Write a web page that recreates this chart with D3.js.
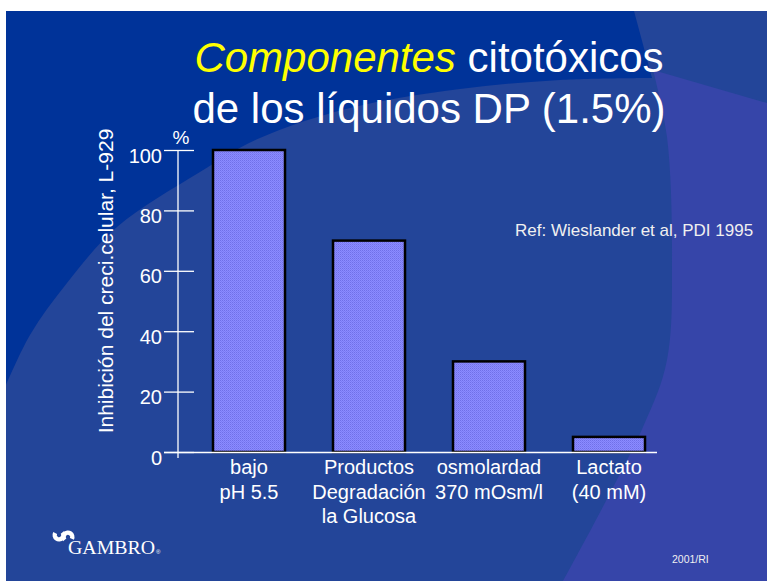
<!DOCTYPE html>
<html>
<head>
<meta charset="utf-8">
<script src="https://cdn.jsdelivr.net/npm/d3@7"></script>
<style>
  body { margin: 0; background: #fff; }
  svg { display: block; font-family: "Liberation Sans", Arial, sans-serif; }
</style>
</head>
<body>
<div id="chart"></div>
<script>
// data
const categories = ["bajo|pH 5.5", "Productos|Degradación|la Glucosa", "osmolardad|370 mOsm/l", "Lactato|(40 mM)"];
const values = [100, 70, 30, 5];
const yTicks = [0, 20, 40, 60, 80, 100];

const width = 767;
const height = 581;

const svg = d3.select("#chart")
  .append("svg")
  .attr("width", width)
  .attr("height", height);

// bar fill pattern (stippled lavender)
const defs = svg.append("defs");
const pat = defs.append("pattern")
  .attr("id", "stipple")
  .attr("width", 2).attr("height", 2)
  .attr("patternUnits", "userSpaceOnUse");
pat.append("rect").attr("width", 2).attr("height", 2).attr("fill", "#8c8cff");
pat.append("rect").attr("width", 1).attr("height", 1).attr("fill", "#7070e8");
pat.append("rect").attr("x", 1).attr("y", 1).attr("width", 1).attr("height", 1).attr("fill", "#7c7cf4");

// background slide
svg.append("rect").attr("x", 6).attr("y", 11).attr("width", width - 6).attr("height", height - 11).attr("fill", "#234599");

const curve = d3.line().curve(d3.curveCatmullRom);
svg.append("path")
  .attr("d", "M6,11 L634,11 L652,78 " +
    curve([[652, 78], [560, 80], [460, 89], [350, 108], [260, 138], [200, 172], [117, 227], [67, 283], [30, 335], [6, 385]]).replace(/^M[^C]*/, "") + " Z")
  .attr("fill", "#003399");

svg.append("path")
  .attr("d", "M653,70 L767,103 L767,581 L563,581 " +
    curve([[563, 581], [643, 427], [667, 360], [672, 260], [667, 137], [653, 70]]).replace(/^M[^C]*/, "") + " Z")
  .attr("fill", "#3645a9");

// title
const title = svg.append("text").attr("x", 429).attr("y", 72)
  .attr("text-anchor", "middle").attr("font-size", 42).attr("fill", "#fff");
title.append("tspan").attr("fill", "#ffff00").attr("font-style", "italic").text("Componentes");
title.append("tspan").text(" citotóxicos");
svg.append("text").attr("x", 429).attr("y", 123)
  .attr("text-anchor", "middle").attr("font-size", 42).attr("fill", "#fff")
  .text("de los líquidos DP (1.5%)");

// scales
const y = d3.scaleLinear().domain([0, 100]).range([452, 150]);
const x = d3.scaleBand().domain(categories).range([189, 669]).paddingInner(0.4).paddingOuter(0.2);

// bars
svg.selectAll("rect.bar")
  .data(values)
  .join("rect")
  .attr("class", "bar")
  .attr("x", (d, i) => x(categories[i]))
  .attr("y", d => y(d))
  .attr("width", x.bandwidth())
  .attr("height", d => y(0) - y(d))
  .attr("fill", "url(#stipple)")
  .attr("stroke", "#000")
  .attr("stroke-width", 2.5);

// y axis
const yAxis = d3.axisLeft(y).tickValues(yTicks).tickSize(0).tickPadding(0);
const ga = svg.append("g").attr("transform", "translate(178,0)").call(yAxis);
ga.select(".domain").remove();
ga.selectAll(".tick line").remove();
ga.selectAll(".tick").append("line")
  .attr("x1", -14).attr("x2", 16)
  .attr("stroke", "#fff").attr("stroke-width", 1.3);
ga.selectAll(".tick text")
  .attr("x", -16).attr("dy", 12).attr("text-anchor", "end")
  .attr("font-size", 20).attr("fill", "#fff")
  .attr("font-family", "Liberation Sans, Arial, sans-serif");
svg.append("line").attr("x1", 178).attr("x2", 178).attr("y1", y(100)).attr("y2", 458)
  .attr("stroke", "#fff").attr("stroke-width", 1.3);

// baseline
svg.append("line").attr("x1", 164).attr("x2", 657).attr("y1", y(0) + 0.5).attr("y2", y(0) + 0.5)
  .attr("stroke", "#fff").attr("stroke-width", 1.5);

svg.append("text").attr("x", 181).attr("y", 144).attr("text-anchor", "middle")
  .attr("font-size", 19).attr("fill", "#fff").text("%");

// y title
svg.append("text").attr("transform", "translate(113,281) rotate(-90)")
  .attr("text-anchor", "middle").attr("font-size", 21).attr("fill", "#fff")
  .text("Inhibición del creci.celular, L-929");

// category labels
categories.forEach(c => {
  const t = svg.append("text").attr("x", x(c) + x.bandwidth() / 2).attr("y", 474)
    .attr("text-anchor", "middle").attr("font-size", 20).attr("fill", "#fff");
  c.split("|").forEach((line, j) => {
    t.append("tspan").attr("x", x(c) + x.bandwidth() / 2).attr("dy", j ? 24.5 : 0).text(line);
  });
});

// reference
svg.append("text").attr("x", 515).attr("y", 236).attr("font-size", 17).attr("fill", "#f0f0f0")
  .text("Ref: Wieslander et al, PDI 1995");

svg.append("text").attr("x", 672).attr("y", 563).attr("font-size", 10.5).attr("fill", "#f0f0f0")
  .text("2001/RI");

// GAMBRO logo
const hook = d3.arc().innerRadius(2.2).outerRadius(6.5);
const logo = svg.append("g");
logo.append("path").attr("transform", "translate(59,535)")
  .attr("d", hook({ startAngle: 0.9, endAngle: 5.2 })).attr("fill", "#fff");
logo.append("path").attr("transform", "translate(68,537)")
  .attr("d", hook({ startAngle: 4.0, endAngle: 8.3 })).attr("fill", "#fff");
svg.append("text").attr("x", 68).attr("y", 554).attr("font-size", 18)
  .attr("font-family", "Liberation Serif, serif").attr("fill", "#fff")
  .attr("textLength", 87).attr("lengthAdjust", "spacingAndGlyphs")
  .text("GAMBRO");
svg.append("text").attr("x", 156).attr("y", 554).attr("font-size", 6).attr("fill", "#fff").text("®");
</script>
</body>
</html>
